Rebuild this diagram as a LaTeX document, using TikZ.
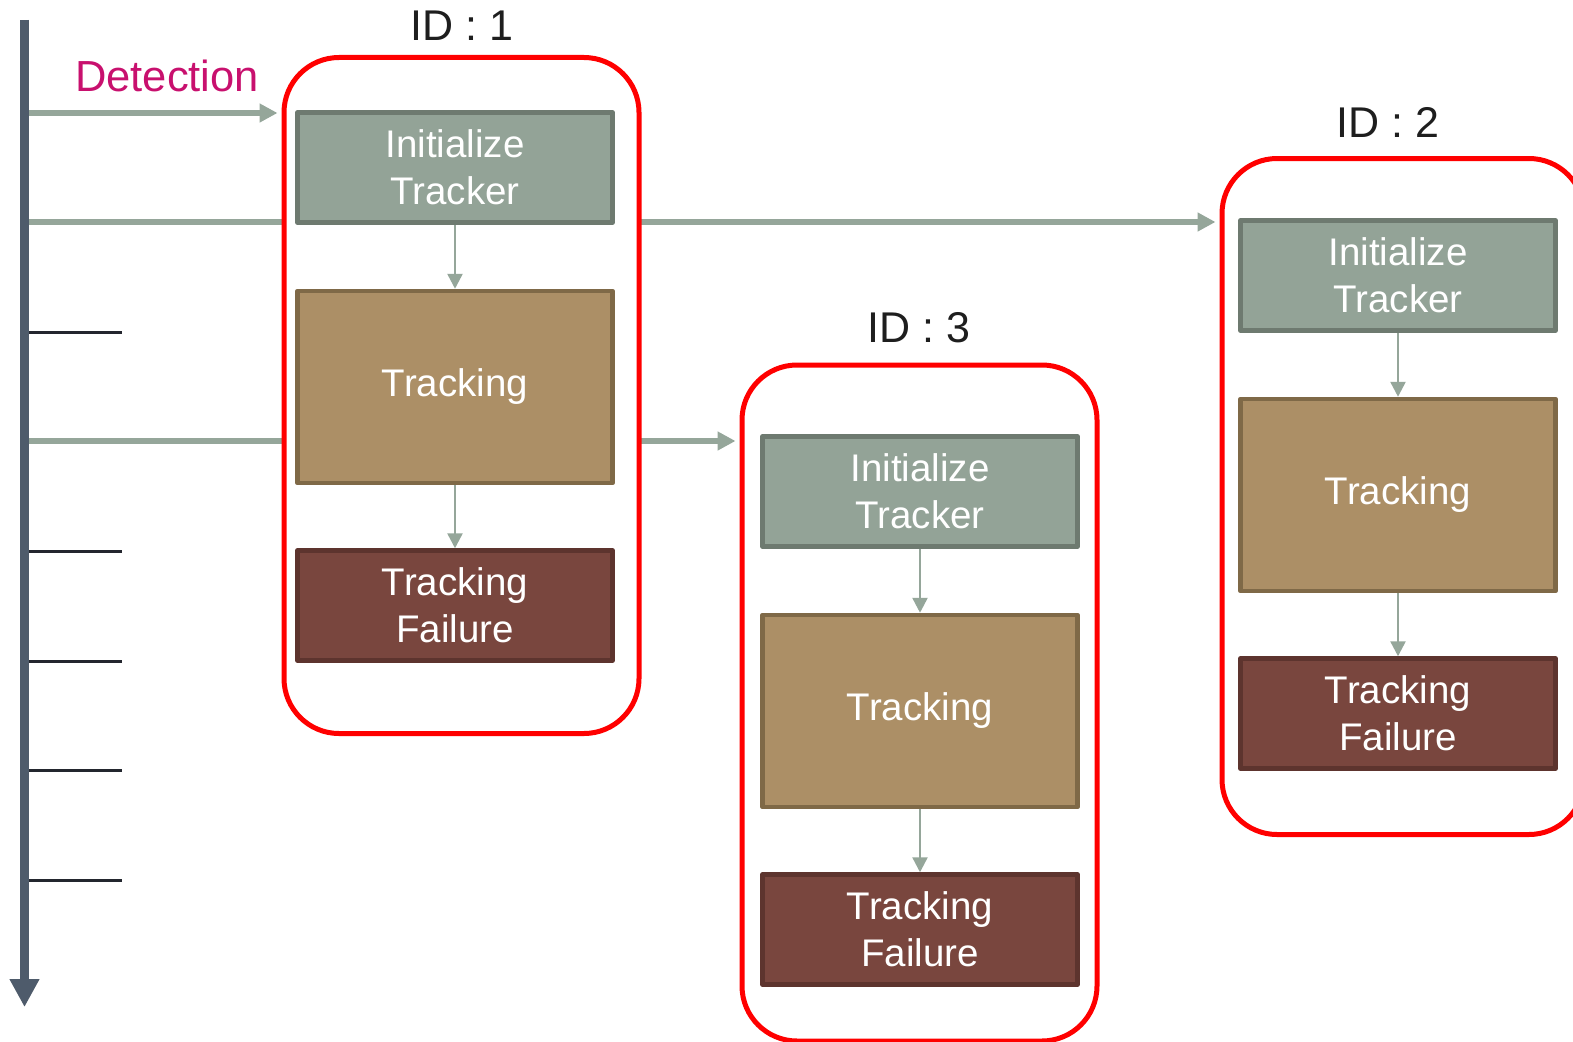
\documentclass[tikz,border=0pt]{standalone}
\usepackage{fontspec}
\setmainfont{Liberation Sans}
\usetikzlibrary{arrows.meta,positioning,backgrounds}
\definecolor{initfill}{HTML}{93A397}
\definecolor{initedge}{HTML}{6E7A70}
\definecolor{trackfill}{HTML}{AC8F66}
\definecolor{trackedge}{HTML}{7F6947}
\definecolor{failfill}{HTML}{79463E}
\definecolor{failedge}{HTML}{5D342E}
\definecolor{feedline}{HTML}{95A69A}
\definecolor{axis}{HTML}{4E5B6B}
\definecolor{detect}{HTML}{C8106E}
\definecolor{tickink}{HTML}{23262E}
\definecolor{ink}{HTML}{1E1E1E}
\tikzset{
  stagebox/.style={rectangle, line width=4.5pt, minimum width=315pt,
    text=white, align=center, inner sep=0pt,
    font=\fontsize{38.5}{47}\selectfont},
  initbox/.style={stagebox, fill=initfill, draw=initedge, minimum height=110pt},
  trackbox/.style={stagebox, fill=trackfill, draw=trackedge, minimum height=192pt},
  failbox/.style={stagebox, fill=failfill, draw=failedge, minimum height=110pt},
  idframe/.style={draw=red, line width=5pt, fill=white, rounded corners=55pt,
    minimum width=355pt, minimum height=676pt, inner sep=0pt},
  idlabel/.style={anchor=base, text=ink, inner sep=0pt,
    font=\fontsize{43}{50}\selectfont},
  feed/.style={draw=feedline, line width=6pt,
    -{Triangle[length=18pt,width=18pt]}, shorten >=4pt},
  flow/.style={draw=feedline, line width=2.5pt,
    -{Triangle[length=15pt,width=15pt]}},
  tickmark/.style={draw=tickink, line width=3pt},
  timeline/.style={draw=axis, line width=9pt,
    -{Triangle[length=28pt,width=28pt]}},
}

\begin{document}
\begin{tikzpicture}[x=1pt,y=-1pt,line join=round]
\path[use as bounding box] (0,0) rectangle (1573,1041);

% track frames
\node[idframe] (id1) at (461.5,395.5) {};
\node[idframe] (id3) at (919.5,703) {};
\node[idframe, minimum width=362pt] (id2) at (1403,496.5) {};

\node[idlabel] (lbl1) at (462,41) {ID : 1};
\node[idlabel] (lbl3) at (919,342) {ID : 3};
\node[idlabel] (lbl2) at (1388,137) {ID : 2};

% stages per id
\node[initbox] (init1) at (455,167.5) {Initialize\\Tracker};
\node[trackbox, below=64pt of init1] (track1) {Tracking};
\node[failbox, below=63pt of track1] (fail1) {Tracking\\Failure};

\node[initbox] (init3) at (920,491.5) {Initialize\\Tracker};
\node[trackbox, below=64pt of init3] (track3) {Tracking};
\node[failbox, below=63pt of track3] (fail3) {Tracking\\Failure};

\node[initbox] (init2) at (1398,275.5) {Initialize\\Tracker};
\node[trackbox, below=64pt of init2] (track2) {Tracking};
\node[failbox, below=63pt of track2] (fail2) {Tracking\\Failure};

\foreach \n in {1,2,3}{
  \draw[flow] (init\n) -- (track\n);
  \draw[flow] (track\n) -- (fail\n);
}

% time axis
\coordinate (axtop) at (24.5,20);
\coordinate (axend) at (24.5,1007);
\coordinate (t1) at (24.5,113);
\coordinate (t2) at (24.5,222);
\coordinate (t3) at (24.5,441);

\begin{pgfonlayer}{background}
  \draw[feed] (t1) -- (t1 -| id1.west);
  \draw[feed] (t2) -- (t2 -| id2.west);
  \draw[feed] (t3) -- (t3 -| id3.west);
\end{pgfonlayer}

\node[text=detect, anchor=base west, inner sep=0pt,
  font=\fontsize{43.5}{50}\selectfont] (detlabel) at (75,91) {Detection};

\foreach \ty in {332,551,661,770,880}{
  \coordinate (tick\ty) at (24.5,\ty);
  \draw[tickmark] (tick\ty) -- ++(97.5,0);
}

\draw[timeline, draw=black!18, shift={(4,4)}] (axtop) -- (axend);
\draw[timeline] (axtop) -- (axend);
\end{tikzpicture}
\end{document}
